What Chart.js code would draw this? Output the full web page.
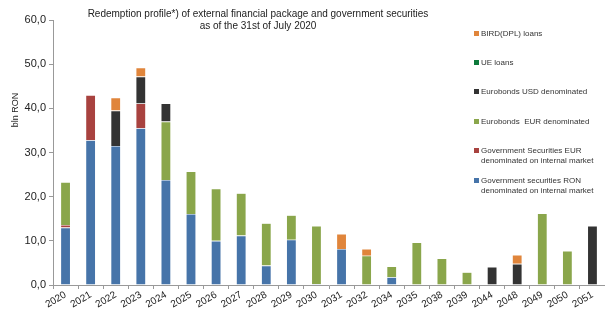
<!DOCTYPE html>
<html><head><meta charset="utf-8">
<script src="https://cdn.jsdelivr.net/npm/chart.js@4"></script>
<style>html,body{margin:0;padding:0;background:#fff}#wrap{width:605px;height:311px;position:relative}</style>
</head><body><div id="wrap"><canvas id="c" width="605" height="311"></canvas></div>
<script>
const categories = ["2020","2021","2022","2023","2024","2025","2026","2027","2028","2029","2030","2031","2032","2034","2035","2038","2039","2044","2048","2049","2050","2051"];
const govRON   = [13.0,32.8,31.5,35.5,23.8,16.1,10.0,11.2,4.4,10.25,0.2,8.15,0,1.75,0,0,0,0,0,0,0,0];
const govEUR   = [0.6,10.2,0,5.6,0,0,0,0,0,0,0,0,0,0,0,0,0,0,0,0,0,0];
const euroEUR  = [9.7,0,0,0,13.2,9.6,11.8,9.6,9.6,5.55,13.2,0,6.65,2.45,9.65,6.0,2.9,0,0,16.2,7.7,0];
const euroUSD  = [0,0,8.0,6.1,4.1,0,0,0,0,0,0,0,0,0,0,0,0,4.1,4.8,0,0,13.4];
const ueLoans  = [0,0,0,0,0,0,0,0,0,0,0,0,0,0,0,0,0,0,0,0,0,0];
const bird     = [0,0,2.9,2.0,0,0,0,0,0,0,0,3.4,1.5,0,0,0,0,0,2.0,0,0,0];
const yTicks = [0,10,20,30,40,50,60];

const FONT = '"Liberation Sans", Arial, sans-serif';
const series = [
  {label:["Government securities RON","denominated on internal market"], data:govRON, color:"#4674A9"},
  {label:["Government Securities EUR","denominated on internal market"], data:govEUR, color:"#A8423F"},
  {label:["Eurobonds  EUR denominated"], data:euroEUR, color:"#8AA64B"},
  {label:["Eurobonds USD denominated"], data:euroUSD, color:"#333333"},
  {label:["UE loans"], data:ueLoans, color:"#0E7A3B"},
  {label:["BIRD(DPL) loans"], data:bird, color:"#E0853B"}
];

const overlay = {
  id:'overlay',
  afterDraw(chart){
    const ctx = chart.ctx;
    ctx.save();
    ctx.fillStyle = '#222';
    ctx.textAlign = 'center';
    ctx.textBaseline = 'alphabetic';
    ctx.font = '10px ' + FONT;
    ctx.fillText('Redemption profile*) of external financial package and government securities', 258, 17);
    ctx.fillText('as of the 31st of July 2020', 258, 29);
    // y title
    ctx.save();
    ctx.translate(18, 110);
    ctx.rotate(-Math.PI/2);
    ctx.font = '9px ' + FONT;
    ctx.textAlign = 'center';
    ctx.fillText('bln RON', 0, 0);
    ctx.restore();
    // legend
    const rows = [34, 63, 92, 122, 151, 181];
    ctx.font = '8px ' + FONT;
    ctx.textAlign = 'left';
    ctx.textBaseline = 'middle';
    const order = series.slice().reverse();
    order.forEach((s, i) => {
      const y = rows[i];
      ctx.fillStyle = s.color;
      ctx.fillRect(474, y - 3, 5, 5);
      ctx.fillStyle = '#333';
      s.label.forEach((t, j) => ctx.fillText(t, 481, y + j * 10));
    });
    ctx.restore();
  }
};

new Chart(document.getElementById('c'), {
  type:'bar',
  data:{
    labels:categories,
    datasets: series.map(s => ({
      label: s.label.join(' '),
      data: s.data,
      backgroundColor: s.color,
      borderColor: 'rgba(255,255,255,0.35)',
      borderWidth: 0.6,
      barPercentage: 0.4,
      categoryPercentage: 1.0
    }))
  },
  options:{
    responsive:false,
    animation:false,
    layout:{padding:{top:20,right:0,left:0,bottom:0}},
    plugins:{legend:{display:false}, title:{display:false}, tooltip:{enabled:false}},
    scales:{
      x:{
        stacked:true,
        grid:{display:true, drawOnChartArea:false, drawTicks:true, tickLength:4, offset:true, color:'#999'},
        border:{display:true, color:'#999'},
        ticks:{autoSkip:false, minRotation:30, maxRotation:30, color:'#222', font:{family:FONT, size:10}, padding:0},
        afterFit(s){ s.height = 26; }
      },
      y:{
        stacked:true,
        min:0, max:60,
        afterBuildTicks(s){ s.ticks = yTicks.map(v => ({value:v})); },
        grid:{display:true, drawOnChartArea:false, drawTicks:true, tickLength:4, color:'#999'},
        border:{display:true, color:'#999'},
        ticks:{color:'#222', font:{family:FONT, size:11}, padding:3,
          callback:v => v.toFixed(1).replace('.', ',')},
        afterFit(s){ s.width = 53; }
      }
    }
  },
  plugins:[overlay]
});
</script></body></html>
